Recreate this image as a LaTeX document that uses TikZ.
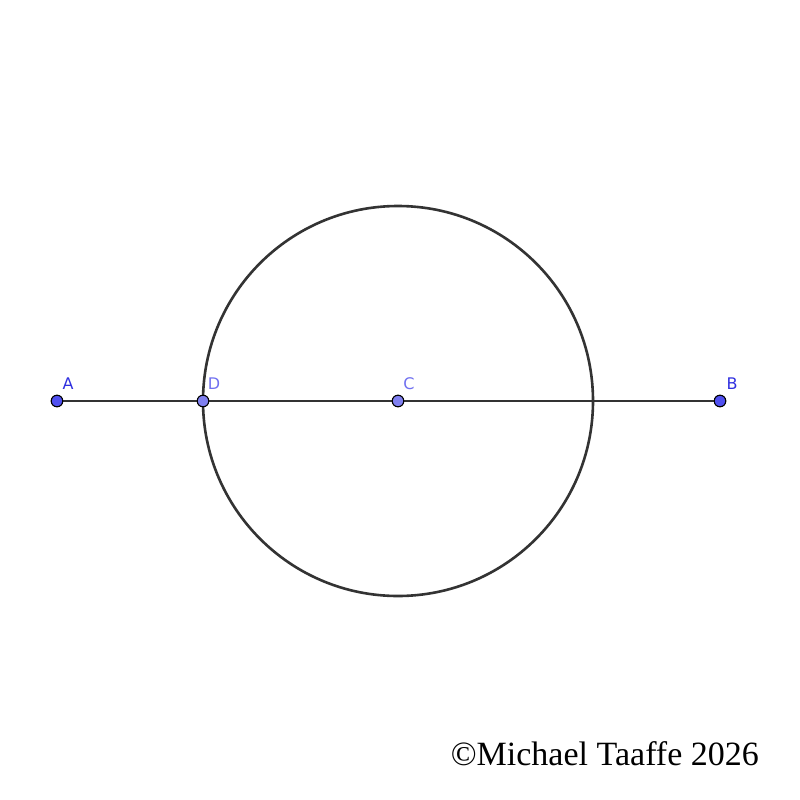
\documentclass[tikz,border=0pt]{standalone}
\usepackage{fontspec}
\setmainfont{Liberation Serif}
\newfontfamily\labelfont{DejaVu Sans}
\definecolor{linegray}{HTML}{333333}
\definecolor{ptdark}{HTML}{5050F0}
\definecolor{ptlight}{HTML}{8080F0}
\definecolor{lbldark}{HTML}{3030E0}
\definecolor{lbllight}{HTML}{7070F0}
\begin{document}
\begin{tikzpicture}[x=1pt,y=-1pt,
  geo/.style={draw=linegray,line width=2.6pt},
  ptA/.style={circle,draw=black,line width=1pt,fill=ptdark,minimum size=11.5pt,inner sep=0pt},
  ptB/.style={circle,draw=black,line width=1pt,fill=ptlight,minimum size=11.5pt,inner sep=0pt},
  lbl/.style={font=\labelfont\fontsize{16}{18}\selectfont,text=lbldark,inner sep=0pt},
  lbl2/.style={font=\labelfont\fontsize{16}{18}\selectfont,text=lbllight,inner sep=0pt}]
\useasboundingbox (0,0) rectangle (800,800);
\fill[white] (0,0) rectangle (800,800);
\coordinate (c) at (398,401);
\draw[geo] (c) circle[radius=195];
\node[ptA] (A) at (57,401) {};
\node[ptA] (B) at (720,401) {};
\node[ptB] (D) at (203,401) {};
\node[ptB] (C) at (398,401) {};
\draw[geo] (A) -- (D) -- (C) -- (B);
\node[ptA] at (57,401) {};
\node[ptA] at (720,401) {};
\node[ptB] at (203,401) {};
\node[ptB] at (398,401) {};
\node[lbl,anchor=base] (la) at (68,389) {A};
\node[lbl,anchor=base] (lb) at (732,389) {B};
\node[lbl2,anchor=base] (ld) at (214,389) {D};
\node[lbl2,anchor=base] (lc) at (409,389) {C};
\node[anchor=base east,font=\fontsize{34}{40}\selectfont,inner sep=0pt] (cp) at (759,765) {©Michael Taaffe 2026};
\end{tikzpicture}
\end{document}
